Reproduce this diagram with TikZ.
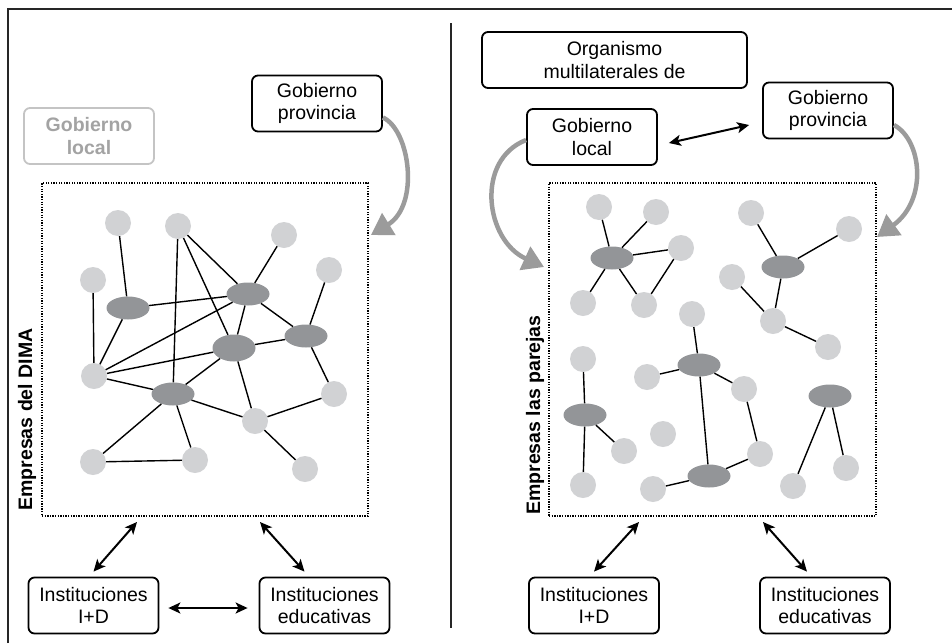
\documentclass[tikz,border=0pt]{standalone}
\usepackage{fontspec}
\setmainfont{Liberation Sans}
\usetikzlibrary{shapes.geometric,arrows.meta,calc}
\definecolor{lgray}{HTML}{D1D2D4}
\definecolor{dgray}{HTML}{939598}
\definecolor{agray}{HTML}{9B9B9B}
\definecolor{fgray}{HTML}{C4C4C4}
\definecolor{tgray}{HTML}{A3A3A3}
\newcommand{\fsz}{\fontsize{19.5}{22.5}\selectfont}
\tikzset{
  lc/.style={circle, fill=lgray, minimum size=26pt, inner sep=0pt},
  dk/.style={ellipse, fill=dgray, minimum width=43pt, minimum height=23pt, inner sep=0pt},
  boxn/.style={draw, line width=1.8pt, rounded corners=6pt, minimum width=130pt, minimum height=56pt, align=center, font=\fsz, inner sep=0pt},
  gbox/.style={boxn, draw=fgray, text=tgray, font=\fsz\bfseries},
  dotbox/.style={draw, line width=1.3pt, dash pattern=on 1.3pt off 1.3pt, inner sep=0pt},
  edge/.style={line width=1.4pt},
  darr/.style={{Stealth[length=12pt,width=11pt,inset=3pt]}-{Stealth[length=12pt,width=11pt,inset=3pt]}, line width=2pt},
  garr/.style={-{Triangle[length=21pt,width=25pt]}, line width=4.5pt, draw=agray},
  frame/.style={line width=2pt, draw=black!85},
  vlabel/.style={rotate=90, anchor=base, font=\fsz\bfseries, inner sep=0pt}
}
\begin{document}
\begin{tikzpicture}[x=1pt,y=-1pt]
\useasboundingbox (0,0) rectangle (952,643);
% frame
\draw[frame] (8,643) -- (8,9) -- (952,9);
\draw[frame] (451,23) -- (451,628);

% ---------------- LEFT PANEL ----------------
\node[gbox] (lgl) at (89,136) {Gobierno\\local};
\node[boxn] (lgp) at (317,103.5) {Gobierno\\provincia};
\node[dotbox, minimum width=326pt, minimum height=333pt] (ldb) at (205,349.5) {};
\node[vlabel] (llab) at (32,419.5) {Empresas del DIMA};
\node[boxn] (lid) at (93.5,605.5) {Instituciones\\I+D};
\node[boxn] (led) at (324.5,605.5) {Instituciones\\educativas};

\node[lc] (c1) at (118,223) {};
\node[lc] (c2) at (178,226) {};
\node[lc] (c3) at (284,235) {};
\node[lc] (c4) at (329,270) {};
\node[lc] (c5) at (93,280) {};
\node[lc] (c6) at (94,376) {};
\node[lc] (c7) at (334,394) {};
\node[lc] (c8) at (255,421) {};
\node[lc] (c9) at (93,462) {};
\node[lc] (c10) at (195,460) {};
\node[lc] (c11) at (305,469) {};
\node[dk] (e1) at (128,308) {};
\node[dk] (e2) at (248,294) {};
\node[dk] (e3) at (306,336) {};
\node[dk, minimum height=27pt] (e4) at (234,348) {};
\node[dk] (e5) at (173,394) {};

\foreach \a/\b in {c1/e1,c2/e5,c2/e4,c2/e2,c3/e2,c5/c6,e1/e2,e1/c6,c6/e2,c6/e4,c6/e5,e2/e4,e2/e3,e4/e3,e4/e5,e4/c8,c4/e3,e3/c7,c7/c8,e5/c8,e5/c9,e5/c10,c9/c10,c8/c11}
  \draw[edge] (\a) -- (\b);

\coordinate (la1) at (137,522);
\coordinate (la2) at (260,522);
\draw[darr] ([yshift=5pt]lid.north) -- (la1);
\draw[darr] ([shift={(-20pt,5pt)}]led.north) -- (la2);
\draw[darr] ([shift={(9pt,-2.5pt)}]lid.east) -- ([shift={(-11pt,-2.5pt)}]led.west);

\coordinate (lgt) at (371,235);
\draw[garr] ([yshift=-14pt]lgp.east) .. controls (410,130) and (420,205) .. (lgt);

% ---------------- RIGHT PANEL ----------------
\node[boxn, minimum width=265pt] (org) at (614.5,60) {Organismo\\multilaterales de};
\node[boxn] (rgp) at (828,110.5) {Gobierno\\provincia};
\node[boxn] (rgl) at (592,137) {Gobierno\\local};
\node[dotbox, minimum width=327pt, minimum height=333pt] (rdb) at (712.5,349.5) {};
\node[vlabel] (rlab) at (540,415) {Empresas las parejas};
\node[boxn] (rid) at (594,605.5) {Instituciones\\I+D};
\node[boxn] (red) at (825,605.5) {Instituciones\\educativas};

\node[lc] (r1) at (599,207) {};
\node[lc] (r2) at (656,212) {};
\node[lc] (r3) at (681,248) {};
\node[lc] (r4) at (751,213) {};
\node[lc] (r5) at (849,229) {};
\node[lc] (r6) at (732,277) {};
\node[lc] (r7) at (583,303) {};
\node[lc] (r8) at (644,305) {};
\node[lc] (r9) at (692,314) {};
\node[lc] (r10) at (773,321) {};
\node[lc] (r11) at (828,347) {};
\node[lc] (r12) at (583,359) {};
\node[lc] (r13) at (647,377) {};
\node[lc] (r14) at (744,389) {};
\node[lc] (r15) at (663,434) {};
\node[lc] (r16) at (624,451) {};
\node[lc] (r17) at (760,454) {};
\node[lc] (r18) at (846,468) {};
\node[lc] (r19) at (583,485) {};
\node[lc] (r20) at (653,489) {};
\node[lc] (r21) at (793,486) {};
\node[dk] (re1) at (612,258) {};
\node[dk] (re2) at (783,267) {};
\node[dk] (re3) at (699,365) {};
\node[dk] (re4) at (830,396) {};
\node[dk] (re5) at (585,415) {};
\node[dk] (re6) at (709,476) {};

\foreach \a/\b in {r1/re1,r2/re1,re1/r3,re1/r7,re1/r8,r3/r8,r4/re2,re2/r5,re2/r10,r6/r10,r10/r11,r9/re3,re3/r13,re3/r14,re3/re6,r14/r17,r17/re6,re6/r20,r12/re5,re5/r16,re5/r19,re4/r21,re4/r18}
  \draw[edge] (\a) -- (\b);

\draw[darr] ([shift={(11pt,-6pt)}]rgl.east) -- ([shift={(-13pt,-14.5pt)}]rgp.west);
\coordinate (ra1) at (639,522);
\coordinate (ra2) at (763,522);
\draw[darr] ([yshift=5pt]rid.north) -- (ra1);
\draw[darr] ([shift={(-18pt,5pt)}]red.north) -- (ra2);

\coordinate (rgt1) at (544,267);
\coordinate (rgt2) at (877,237);
\draw[garr] ([yshift=-3pt]rgl.west) .. controls (475,160) and (485,240) .. (rgt1);
\draw[garr] ([yshift=-14.5pt]rgp.east) .. controls (922,140) and (928,200) .. (rgt2);
\end{tikzpicture}
\end{document}
